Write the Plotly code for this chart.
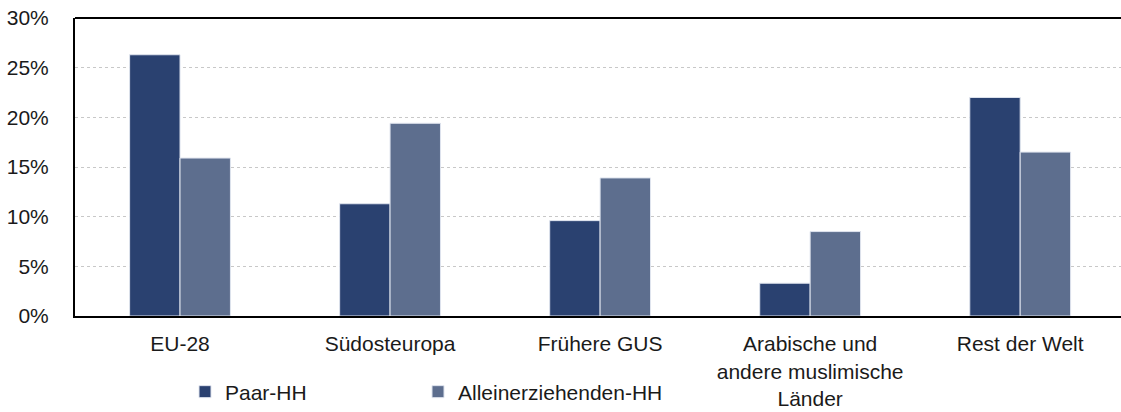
import plotly.graph_objects as go

categories = ["EU-28", "Südosteuropa", "Frühere GUS",
              "Arabische und<br>andere muslimische<br>Länder", "Rest der Welt"]
paar_hh = [26.3, 11.3, 9.6, 3.3, 22.0]
allein_hh = [15.9, 19.4, 13.9, 8.5, 16.5]
y_ticks = [0, 5, 10, 15, 20, 25, 30]
y_labels = [f"{v}%" for v in y_ticks]

FONT = "Liberation Sans, Arial, sans-serif"
FS = 21
W, H = 1121, 412

fig = go.Figure()
fig.add_trace(go.Bar(name="Paar-HH", x=categories, y=paar_hh, legend="legend",
                     marker=dict(color="#2a4170", line=dict(color="#dfe4ee", width=1))))
fig.add_trace(go.Bar(name="Alleinerziehenden-HH", x=categories, y=allein_hh, legend="legend2",
                     marker=dict(color="#5d6e8e", line=dict(color="#dfe4ee", width=1))))

leg_common = dict(orientation="h", xref="container", yref="container",
                  xanchor="left", yanchor="middle", y=1 - 392 / H,
                  font=dict(size=FS), itemwidth=30, bgcolor="rgba(0,0,0,0)")

fig.update_layout(
    width=W, height=H,
    margin=dict(l=75, r=0, t=18, b=96, autoexpand=False),
    paper_bgcolor="white", plot_bgcolor="white",
    barmode="group", bargap=0.52, bargroupgap=0,
    font=dict(family=FONT, size=FS, color="#1a1a1a"),
    showlegend=True,
    legend=dict(x=185 / W, **leg_common),
    legend2=dict(x=418 / W, **leg_common),
)
# top frame line (plot-area border)
fig.add_shape(type="line", xref="paper", yref="paper", x0=0, x1=1, y0=1, y1=1,
              line=dict(color="black", width=2), layer="above")
fig.update_xaxes(
    range=[-0.5, 4.48], showline=True, linecolor="black", linewidth=2,
    mirror=False, showgrid=False, ticks="", ticklabelstandoff=8,
    tickfont=dict(size=FS), automargin=False,
)
fig.update_yaxes(
    range=[0, 30], tickvals=y_ticks, ticktext=y_labels,
    showline=True, linecolor="black", linewidth=2, mirror=False,
    showgrid=True, gridcolor="#c8c8c8", griddash="dot", gridwidth=1,
    ticks="", ticklabelstandoff=20, zeroline=False, ticklabeloverflow="allow",
    tickfont=dict(size=FS), automargin=False,
)

fig.write_html(
    "out.html",
    config={"displayModeBar": False},
    post_script="document.body.style.margin='0';document.body.style.overflow='hidden';",
)
